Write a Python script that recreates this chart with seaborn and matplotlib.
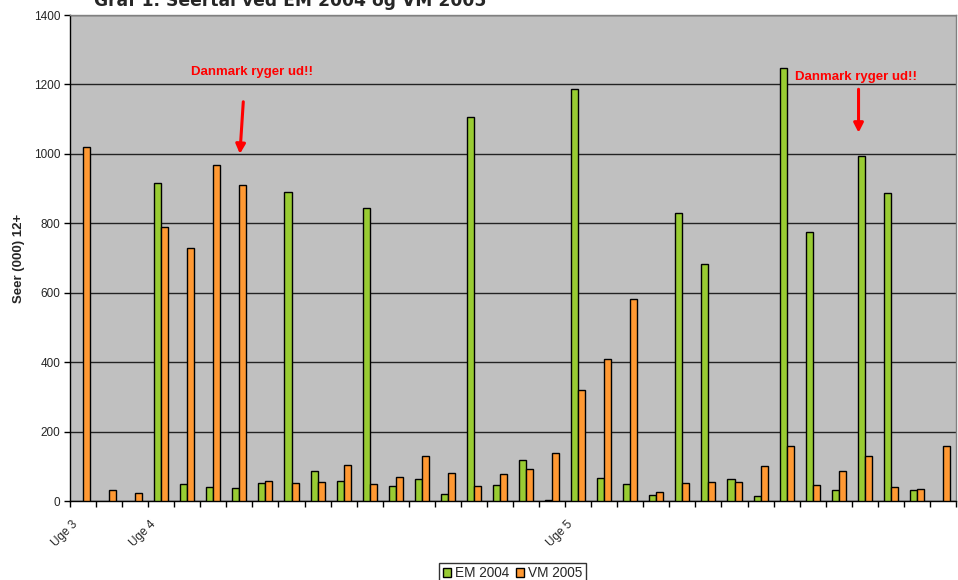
import numpy as np
import pandas as pd
import matplotlib
matplotlib.use("Agg")
import matplotlib.pyplot as plt
import matplotlib.transforms as mtransforms
import seaborn as sns

# Viewers (thousands, 12+) per broadcast slot
em_2004 = [np.nan, np.nan, np.nan, 916, 50, 41, 38, 51, 891, 85, 57, 845, 42, 64, 20, 1105, 45,
           117, 2, 1188, 65, 48, 18, 830, 683, 62, 13, 1247, 776, 33, 994, 888, 31, np.nan]
vm_2005 = [1021, 31, 23, 788, 728, 968, 909, 59, 51, 55, 104, 48, 70, 129, 81, 43, 79,
           92, 137, 320, 409, 582, 27, 53, 55, 55, 100, 158, 45, 87, 130, 39, 36, 157]
series_names = ["EM 2004", "VM 2005"]
week_labels = {0: "Uge 3", 3: "Uge 4", 19: "Uge 5"}
colors = ["#99CC33", "#FF9933"]

n = len(vm_2005)
df = pd.DataFrame({
    "slot": list(range(n)) * 2,
    "serie": [series_names[0]] * n + [series_names[1]] * n,
    "seere": em_2004 + vm_2005,
})

sns.set_style("white")
plt.rcParams["font.family"] = ["Liberation Sans", "DejaVu Sans"]

fig = plt.figure(figsize=(9.58, 5.8), dpi=100)
ax = fig.add_axes([70 / 958, (580 - 501) / 580, (956 - 70) / 958, (501 - 15) / 580])
ax.set_facecolor("#C0C0C0")

sns.barplot(data=df, x="slot", y="seere", hue="serie", palette=colors,
            width=0.54, edgecolor="black", linewidth=1.0, saturation=1,
            ax=ax, legend=True, zorder=3)

ax.set_ylim(0, 1400)
ax.set_xlim(-0.5, n - 0.5)
ax.set_yticks(np.arange(0, 1401, 200))
ax.yaxis.grid(True, color="#222222", linewidth=1.0, zorder=0)
ax.set_axisbelow(True)
ax.tick_params(axis="y", labelsize=8.5, length=4, width=1, color="black", pad=3, left=True)

# Category boundaries get tick marks; only week starts get labels
ax.set_xticks(range(n))
ax.set_xticklabels([week_labels.get(i, "") for i in range(n)], rotation=45,
                   ha="right", va="center", rotation_mode="anchor", fontsize=8.5)
ax.tick_params(axis="x", which="major", length=0, pad=14)
shift = mtransforms.ScaledTranslation(-7 / 100, -2 / 100, fig.dpi_scale_trans)
for lab in ax.get_xticklabels():
    lab.set_transform(lab.get_transform() + shift)
ax.set_xticks(np.arange(-0.5, n, 1), minor=True)
ax.tick_params(axis="x", which="minor", length=4, width=1, color="black", bottom=True)

for side in ["top", "right"]:
    ax.spines[side].set_color("#808080")
    ax.spines[side].set_linewidth(1)
for side in ["left", "bottom"]:
    ax.spines[side].set_color("black")
    ax.spines[side].set_linewidth(1)

ax.set_xlabel("")
ax.set_ylabel("Seer (000) 12+", fontsize=9.5, fontweight="bold", labelpad=6)

# Notes marking Denmark's elimination
arrow_style = dict(arrowstyle="-|>,head_length=0.55,head_width=0.28", color="red", lw=2.2,
                   shrinkA=0, shrinkB=0)
ax.annotate("", xy=(6.02, 1000), xytext=(6.15, 1150), arrowprops=arrow_style)
ax.text(6.47, 1237, "Danmark ryger ud!!", color="red", fontsize=9.5, fontweight="bold",
        ha="center", va="center")
ax.annotate("", xy=(29.76, 1061), xytext=(29.76, 1186), arrowprops=arrow_style)
ax.text(29.68, 1221, "Danmark ryger ud!!", color="red", fontsize=9.5, fontweight="bold",
        ha="center", va="center")

# Legend under the plot
handles, labels = ax.get_legend_handles_labels()
ax.get_legend().remove()
fig.legend(handles, labels, loc="upper center", bbox_to_anchor=(512.5 / 958, 17 / 580),
           ncol=2, frameon=True, fancybox=False, edgecolor="black", fontsize=9.8,
           handlelength=0.6, handleheight=0.6, handletextpad=0.3, columnspacing=0.5,
           borderpad=0.25, borderaxespad=0)

fig.text(94 / 958, 1 - 6 / 580, "Graf 1. Seertal ved EM 2004 og VM 2005", fontsize=12.3,
         fontweight="bold", family="DejaVu Sans", ha="left", va="baseline")

fig.savefig("out.png", dpi=100)
